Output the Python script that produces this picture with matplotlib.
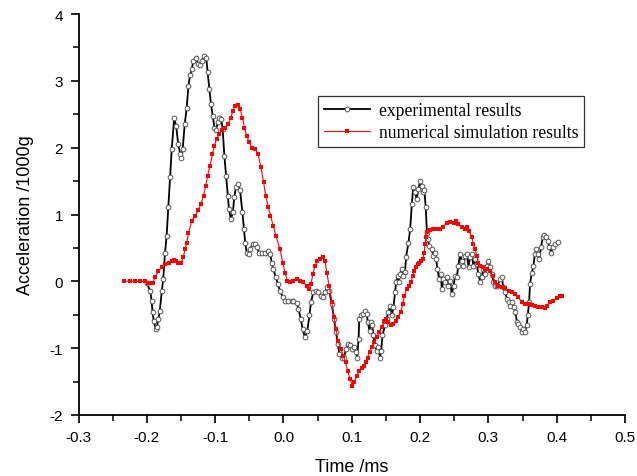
import matplotlib
matplotlib.use("Agg")
import matplotlib.pyplot as plt
from matplotlib.ticker import MultipleLocator, FormatStrFormatter

plt.rcParams["axes.unicode_minus"] = False

# Experimental results (time in ms, acceleration in 1000g)
exp_t = [-0.200, -0.195, -0.193, -0.1916, -0.190, -0.187, -0.1855, -0.183, -0.181, -0.178,
         -0.176, -0.1733, -0.171, -0.1685, -0.166, -0.1635, -0.160, -0.157, -0.154, -0.151,
         -0.1495, -0.1475, -0.1445, -0.1416, -0.139, -0.1367, -0.134, -0.132, -0.1285, -0.1246,
         -0.122, -0.1196, -0.116, -0.113, -0.111, -0.1085, -0.106, -0.1035, -0.101, -0.0987,
         -0.096, -0.094, -0.091, -0.089, -0.0865, -0.084, -0.0816, -0.0797, -0.077, -0.074,
         -0.072, -0.0694, -0.0665, -0.0635, -0.060, -0.0577, -0.056, -0.0537, -0.051, -0.049,
         -0.045, -0.0415, -0.039, -0.0357, -0.032, -0.027, -0.023, -0.0196, -0.017, -0.0148,
         -0.011, -0.0083, -0.005, -0.001, 0.0023, 0.007, 0.012, 0.0145, 0.0195, 0.022,
         0.0253, 0.028, 0.0316, 0.035, 0.038, 0.0404, 0.0438, 0.048, 0.051, 0.0546,
         0.0575, 0.061, 0.064, 0.067, 0.0707, 0.074, 0.077, 0.0795, 0.082, 0.0854,
         0.0887, 0.0917, 0.094, 0.0975, 0.101, 0.1034, 0.106, 0.108, 0.110, 0.111,
         0.1136, 0.117, 0.1195, 0.122, 0.1235, 0.126, 0.128, 0.130, 0.1316, 0.134,
         0.1366, 0.139, 0.1414, 0.143, 0.145, 0.1485, 0.151, 0.1536, 0.156, 0.1586,
         0.161, 0.1634, 0.165, 0.167, 0.169, 0.1707, 0.173, 0.1755, 0.178, 0.1795,
         0.183, 0.1855, 0.188, 0.190, 0.193, 0.195, 0.1975, 0.200, 0.2025, 0.205,
         0.2063, 0.2083, 0.210, 0.211, 0.2136, 0.217, 0.2195, 0.222, 0.2235, 0.2255,
         0.228, 0.230, 0.232, 0.234, 0.2366, 0.239, 0.2414, 0.244, 0.2464, 0.249,
         0.251, 0.2537, 0.256, 0.2586, 0.261, 0.2635, 0.266, 0.2684, 0.271, 0.273,
         0.2757, 0.278, 0.2805, 0.283, 0.2854, 0.288, 0.290, 0.2927, 0.295, 0.2977,
         0.300, 0.3025, 0.305, 0.3073, 0.310, 0.313, 0.317, 0.3196, 0.322, 0.3246,
         0.327, 0.3295, 0.332, 0.3344, 0.337, 0.3393, 0.342, 0.344, 0.3464, 0.349,
         0.351, 0.3537, 0.356, 0.3577, 0.3596, 0.361, 0.3635, 0.366, 0.368, 0.370,
         0.372, 0.3746, 0.377, 0.3796, 0.382, 0.3845, 0.387, 0.3894, 0.392, 0.394,
         0.3977, 0.4016]
exp_a = [-0.03, -0.14, -0.29, -0.46, -0.59, -0.71, -0.69, -0.56, -0.44, -0.14,
         0.03, 0.43, 0.68, 1.11, 1.56, 1.98, 2.44, 2.32, 2.05, 1.90,
         1.84, 1.98, 2.35, 2.60, 2.93, 3.08, 3.18, 3.30, 3.34, 3.25,
         3.23, 3.30, 3.37, 3.34, 3.13, 2.88, 2.65, 2.48, 2.30, 2.27,
         2.38, 2.45, 2.43, 2.28, 1.88, 1.58, 1.28, 1.08, 0.93, 1.03,
         1.26, 1.41, 1.45, 1.36, 1.03, 0.78, 0.58, 0.43, 0.41, 0.48,
         0.56, 0.56, 0.51, 0.43, 0.42, 0.43, 0.46, 0.41, 0.28, 0.18,
         0.06, -0.04, -0.14, -0.24, -0.29, -0.29, -0.29, -0.30, -0.325, -0.41,
         -0.56, -0.71, -0.84, -0.74, -0.51, -0.31, -0.16, -0.14, -0.16, -0.215,
         -0.24, -0.16, -0.09, -0.14, -0.34, -0.56, -0.76, -0.94, -1.09, -1.14,
         -1.14, -1.01, -0.94, -0.96, -1.01, -0.99, -1.06, -1.14, -0.86, -0.56,
         -0.51, -0.49, -0.44, -0.49, -0.61, -0.74, -0.61, -0.66, -0.81, -0.96,
         -1.04, -0.99, -1.14, -1.04, -0.81, -0.66, -0.56, -0.46, -0.37, -0.51,
         -0.39, -0.16, -0.01, 0.08, -0.01, 0.11, 0.18, 0.08, 0.135, 0.36,
         0.58, 0.78, 1.16, 1.41, 1.33, 1.23, 1.38, 1.50, 1.43, 1.33,
         1.36, 1.11, 0.73, 0.63, 0.53, 0.48, 0.38, 0.43, 0.33, 0.18,
         0.03, 0.11, -0.12, 0.03, -0.01, 0.06, -0.07, 0.01, -0.19, -0.07,
         0.08, 0.06, 0.23, 0.41, 0.31, 0.23, 0.38, 0.41, 0.21, 0.36,
         0.41, 0.23, 0.33, 0.26, 0.11, -0.01, 0.06, 0.18, 0.11, 0.23,
         0.31, 0.21, 0.11, -0.01, -0.07, -0.07, 0.03, 0.06, -0.09, -0.16,
         -0.26, -0.31, -0.37, -0.31, -0.39, -0.46, -0.61, -0.64, -0.69, -0.76,
         -0.71, -0.76, -0.66, -0.51, -0.31, -0.04, 0.13, 0.23, 0.41, 0.48,
         0.41, 0.33, 0.51, 0.66, 0.69, 0.67, 0.61, 0.51, 0.43, 0.51,
         0.56, 0.59]

# Numerical simulation results
sim_t = [-0.233, -0.225, -0.218, -0.210, -0.2027, -0.198, -0.195, -0.191, -0.188, -0.183,
         -0.178, -0.1733, -0.168, -0.1635, -0.160, -0.157, -0.154, -0.150, -0.1466, -0.144,
         -0.1416, -0.139, -0.134, -0.1295, -0.1246, -0.1206, -0.117, -0.1138, -0.111, -0.1075,
         -0.104, -0.101, -0.0977, -0.094, -0.090, -0.0855, -0.0807, -0.077, -0.074, -0.071,
         -0.067, -0.0635, -0.060, -0.057, -0.054, -0.050, -0.0464, -0.0415, -0.037, -0.033,
         -0.029, -0.026, -0.022, -0.019, -0.0148, -0.011, -0.005, -0.001, 0.0023, 0.0057,
         0.0097, 0.0145, 0.0195, 0.024, 0.029, 0.034, 0.038, 0.0404, 0.043, 0.046,
         0.0497, 0.0536, 0.0585, 0.061, 0.0634, 0.067, 0.0707, 0.074, 0.077, 0.080,
         0.084, 0.0877, 0.091, 0.094, 0.0975, 0.101, 0.104, 0.1073, 0.1107, 0.1146,
         0.118, 0.121, 0.1234, 0.126, 0.129, 0.1326, 0.1366, 0.140, 0.144, 0.147,
         0.150, 0.1536, 0.1575, 0.161, 0.165, 0.168, 0.1717, 0.1746, 0.177, 0.1805,
         0.184, 0.187, 0.189, 0.1917, 0.194, 0.1966, 0.199, 0.2015, 0.204, 0.206,
         0.2073, 0.2088, 0.2108, 0.2147, 0.2195, 0.2244, 0.229, 0.234, 0.239, 0.244,
         0.249, 0.2527, 0.256, 0.261, 0.266, 0.269, 0.272, 0.2757, 0.278, 0.2805,
         0.283, 0.2854, 0.288, 0.292, 0.295, 0.2985, 0.3025, 0.3064, 0.310, 0.3146,
         0.3196, 0.3246, 0.3295, 0.334, 0.339, 0.344, 0.349, 0.354, 0.3588, 0.3635,
         0.368, 0.373, 0.378, 0.383, 0.386, 0.3904, 0.395, 0.400, 0.405, 0.408]
sim_a = [0.0, 0.0, 0.0, 0.0, 0.0, -0.02, -0.03, -0.02, 0.06, 0.16,
         0.21, 0.26, 0.28, 0.31, 0.32, 0.31, 0.27, 0.28, 0.36, 0.48,
         0.58, 0.72, 0.91, 0.98, 1.06, 1.16, 1.28, 1.43, 1.58, 1.73,
         1.90, 2.03, 2.13, 2.20, 2.27, 2.30, 2.35, 2.45, 2.55, 2.63,
         2.64, 2.58, 2.45, 2.30, 2.18, 2.08, 2.00, 1.98, 1.90, 1.71,
         1.48, 1.28, 1.11, 0.98, 0.83, 0.68, 0.48, 0.28, 0.13, 0.01,
         -0.01, 0.01, 0.035, 0.01, -0.015, -0.065, -0.115, -0.04, 0.11, 0.23,
         0.31, 0.34, 0.37, 0.31, 0.13, -0.065, -0.31, -0.54, -0.71, -0.89,
         -1.01, -1.11, -1.21, -1.34, -1.46, -1.56, -1.51, -1.41, -1.34, -1.29,
         -1.26, -1.21, -1.14, -1.06, -0.99, -0.91, -0.84, -0.76, -0.69, -0.59,
         -0.56, -0.61, -0.66, -0.64, -0.59, -0.54, -0.46, -0.34, -0.215, -0.115,
         -0.065, -0.015, 0.08, 0.16, 0.21, 0.26, 0.28, 0.31, 0.33, 0.43,
         0.56, 0.66, 0.74, 0.77, 0.78, 0.79, 0.78, 0.82, 0.87, 0.89,
         0.88, 0.90, 0.86, 0.81, 0.78, 0.81, 0.76, 0.66, 0.56, 0.48,
         0.38, 0.28, 0.23, 0.21, 0.18, 0.18, 0.16, 0.08, -0.015, -0.065,
         -0.09, -0.105, -0.14, -0.165, -0.19, -0.24, -0.315, -0.34, -0.34, -0.35,
         -0.365, -0.38, -0.38, -0.395, -0.365, -0.315, -0.29, -0.255, -0.215, -0.22]

xticks = [-0.3, -0.2, -0.1, 0.0, 0.1, 0.2, 0.3, 0.4, 0.5]
yticks = [-2, -1, 0, 1, 2, 3, 4]

W, H = 637, 477
fig = plt.figure(figsize=(W / 100, H / 100), dpi=100)
ax = fig.add_axes([78.5 / W, 1 - 416 / H, (625 - 78.5) / W, (416 - 15) / H])

ax.plot(exp_t, exp_a, color="black", lw=1.3, marker="o", ms=3.4,
        mfc="white", mec="#555555", mew=0.7, label="experimental results", zorder=3)
ax.plot(sim_t, sim_a, color="red", lw=0.8, marker="s", ms=2.6,
        mfc="red", mec="red", mew=0, label="numerical simulation results", zorder=4)

ax.set_xlim(-0.3, 0.5)
ax.set_ylim(-2, 4)
ax.set_xticks(xticks)
ax.set_yticks(yticks)
ax.xaxis.set_major_formatter(FormatStrFormatter("%.1f"))
ax.xaxis.set_minor_locator(MultipleLocator(0.05))
ax.yaxis.set_minor_locator(MultipleLocator(0.5))

for s in ("top", "right"):
    ax.spines[s].set_visible(False)
for s in ("left", "bottom"):
    ax.spines[s].set_linewidth(1.3)

ax.tick_params(which="major", direction="out", length=6, width=1.2,
               labelsize=11, pad=5)
ax.tick_params(which="minor", direction="out", length=4, width=1.1)
for lab in ax.get_xticklabels() + ax.get_yticklabels():
    lab.set_family("Liberation Sans")

ax.set_xlabel("Time /ms", fontsize=13, family="Liberation Sans", labelpad=10)
ax.set_ylabel("Acceleration /1000g", fontsize=13, family="Liberation Sans", labelpad=11)

leg = ax.legend(loc="upper left", bbox_to_anchor=(0.438, 0.795),
                prop={"family": "Liberation Serif", "size": 12.7},
                frameon=True, fancybox=False, framealpha=1, edgecolor="#333333",
                borderpad=0.35, handlelength=2.6, handletextpad=0.5, labelspacing=0.25,
                borderaxespad=0)
leg.get_frame().set_linewidth(0.9)

fig.savefig("out.png", dpi=100)
